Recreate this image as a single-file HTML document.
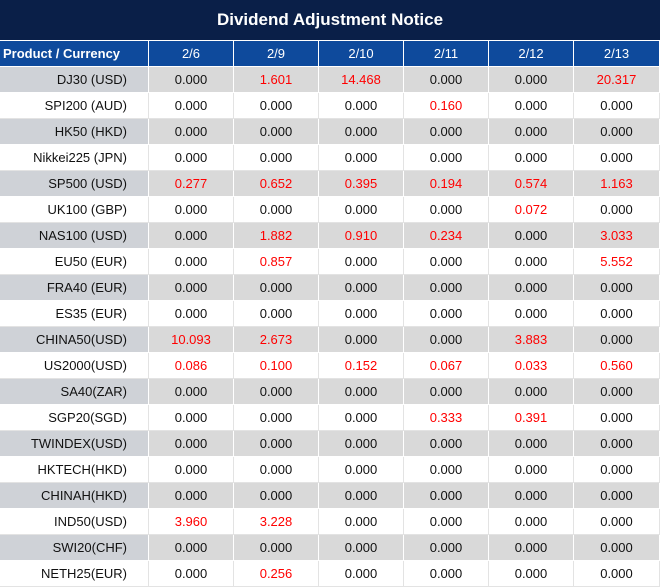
<!DOCTYPE html><html><head><style>
body{margin:0;width:660px;height:587px;background:#fff;font-family:"Liberation Sans",sans-serif;position:relative;overflow:hidden}
.t{position:absolute;left:0;top:0;width:660px;height:40px;background:#0a1f48;color:#fff;font-weight:bold;font-size:17px;text-align:center;line-height:40px}
.c{position:absolute;height:25px;line-height:25px;font-size:13px;text-align:center;box-sizing:border-box;color:#111}
.h{background:#0e4a9c;color:#fff;border-right:1px solid #fff}
.g{background:#d9d9d9;border-right:1px solid #fff}
.gf{background:#cfd2d7;border-right:1px solid #fff}
.w{background:#fff;border-right:1px solid #e3e3e3}
.r{color:#f00}
</style></head><body>
<div class="t">Dividend Adjustment Notice</div>
<div id="tb"></div>
<script>
var X=[0,149,234,319,404,489,574,659];
var H=["Product / Currency","2/6","2/9","2/10","2/11","2/12","2/13"];
var D=[["DJ30 (USD)","0.000","1.601","14.468","0.000","0.000","20.317"],
["SPI200 (AUD)","0.000","0.000","0.000","0.160","0.000","0.000"],
["HK50 (HKD)","0.000","0.000","0.000","0.000","0.000","0.000"],
["Nikkei225 (JPN)","0.000","0.000","0.000","0.000","0.000","0.000"],
["SP500 (USD)","0.277","0.652","0.395","0.194","0.574","1.163"],
["UK100 (GBP)","0.000","0.000","0.000","0.000","0.072","0.000"],
["NAS100 (USD)","0.000","1.882","0.910","0.234","0.000","3.033"],
["EU50 (EUR)","0.000","0.857","0.000","0.000","0.000","5.552"],
["FRA40 (EUR)","0.000","0.000","0.000","0.000","0.000","0.000"],
["ES35 (EUR)","0.000","0.000","0.000","0.000","0.000","0.000"],
["CHINA50(USD)","10.093","2.673","0.000","0.000","3.883","0.000"],
["US2000(USD)","0.086","0.100","0.152","0.067","0.033","0.560"],
["SA40(ZAR)","0.000","0.000","0.000","0.000","0.000","0.000"],
["SGP20(SGD)","0.000","0.000","0.000","0.333","0.391","0.000"],
["TWINDEX(USD)","0.000","0.000","0.000","0.000","0.000","0.000"],
["HKTECH(HKD)","0.000","0.000","0.000","0.000","0.000","0.000"],
["CHINAH(HKD)","0.000","0.000","0.000","0.000","0.000","0.000"],
["IND50(USD)","3.960","3.228","0.000","0.000","0.000","0.000"],
["SWI20(CHF)","0.000","0.000","0.000","0.000","0.000","0.000"],
["NETH25(EUR)","0.000","0.256","0.000","0.000","0.000","0.000"]];
var s="";
for(var j=0;j<7;j++){s+='<div class="c h" style="left:'+X[j]+'px;top:41px;width:'+(X[j+1]-X[j]+(j==6?1:0))+'px;'+(j==0?'text-align:left;padding-left:3px;font-weight:bold;':'')+'">'+H[j]+'</div>';}
for(var i=0;i<20;i++){var y=67+i*26,gr=i%2==0;
for(var j=0;j<7;j++){var cl=gr?(j==0?"gf":"g"):"w";var v=D[i][j];var red=j>0&&v!="0.000";
s+='<div class="c '+cl+(red?' r':'')+'" style="left:'+X[j]+'px;top:'+y+'px;width:'+(X[j+1]-X[j]+(j==6?1:0))+'px;'+(j==0?'text-align:right;padding-right:21px;':'')+'">'+v+'</div>';}
s+='<div style="position:absolute;left:0;top:'+(y+25)+'px;width:660px;height:1px;background:'+(gr?'#fff':'#e3e3e3')+'"></div>';}
document.getElementById("tb").innerHTML=s;
</script></body></html>
